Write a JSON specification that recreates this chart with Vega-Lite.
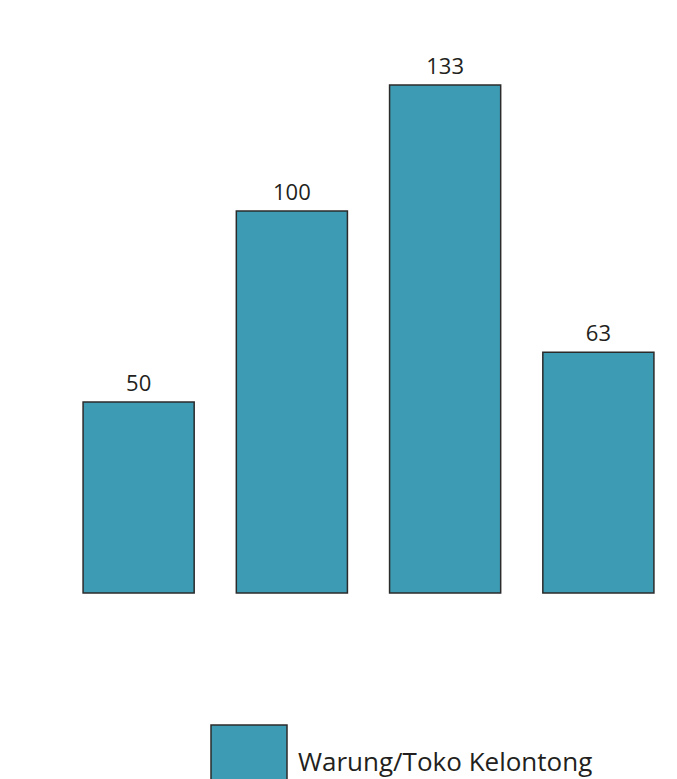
{
  "$schema": "https://vega.github.io/schema/vega-lite/v6.json",
  "width": 613,
  "height": 573,
  "autosize": {"type": "none"},
  "padding": {"left": 62, "top": 20, "right": 2, "bottom": 186},
  "background": "white",
  "config": {
    "view": {"stroke": null},
    "font": "Open Sans",
    "axis": {"domainColor": "#231f20", "tickColor": "#231f20", "labelColor": "#231f20", "domainWidth": 2, "tickWidth": 2, "grid": false, "title": null, "labelFont": "Open Sans", "labelFontSize": 25}
  },
  "data": {
    "values": [
      {"kelurahan": "Wates", "jumlah": 50, "jenis": "Warung/Toko Kelontong"},
      {"kelurahan": "Mengger", "jumlah": 100, "jenis": "Warung/Toko Kelontong"},
      {"kelurahan": "Batununggal", "jumlah": 133, "jenis": "Warung/Toko Kelontong"},
      {"kelurahan": "Kujangsari", "jumlah": 63, "jenis": "Warung/Toko Kelontong"}
    ]
  },
  "encoding": {
    "x": {
      "field": "kelurahan",
      "type": "nominal",
      "sort": null,
      "scale": {"paddingInner": 0.275, "paddingOuter": 0.1375},
      "axis": {"orient": "top", "offset": -573, "labelAngle": 0, "ticks": true, "tickSize": 14, "bandPosition": 1, "tickOffset": 21, "labelOffset": -76.6, "labelPadding": -20, "labelBaseline": "top", "labelFontSize": 25, "zindex": 1}
    },
    "y": {
      "field": "jumlah",
      "type": "quantitative",
      "scale": {"domain": [0, 150], "nice": false},
      "axis": {"orient": "right", "offset": -613, "values": [0, 30, 60, 90, 120, 150], "ticks": true, "tickSize": 14, "labelPadding": -26, "labelAlign": "right", "labelFontSize": 25, "zindex": 1}
    }
  },
  "layer": [
    {
      "mark": {"type": "bar", "stroke": "#2b2b2b", "strokeWidth": 1.5},
      "encoding": {
        "fill": {
          "field": "jenis",
          "type": "nominal",
          "scale": {"range": ["#3d9bb4"]},
          "legend": {
            "title": null,
            "orient": "none",
            "legendX": 148,
            "legendY": 704,
            "symbolType": "square",
            "symbolSize": 5776,
            "symbolStrokeColor": "#2b2b2b",
            "symbolStrokeWidth": 1.5,
            "labelFontSize": 26,
            "labelColor": "#231f20",
            "labelFont": "Open Sans",
            "labelOffset": 10,
            "labelLimit": 400
          }
        }
      }
    },
    {
      "mark": {"type": "text", "baseline": "bottom", "dy": -6, "fontSize": 22, "color": "#231f20", "font": "Open Sans"},
      "encoding": {"text": {"field": "jumlah", "type": "quantitative"}}
    },
    {
      "data": {"values": [{"wm": "https://bandungkota.bps.go.id"}]},
      "mark": {"type": "text", "angle": -45, "fontSize": 42, "fontWeight": "bold", "fill": "#000000", "fillOpacity": 0.17, "align": "center", "baseline": "middle", "dx": 38, "font": "Open Sans"},
      "encoding": {
        "x": {"datum": "Mengger", "axis": null},
        "y": {"datum": 82, "axis": null},
        "text": {"field": "wm", "type": "nominal"}
      }
    }
  ]
}
